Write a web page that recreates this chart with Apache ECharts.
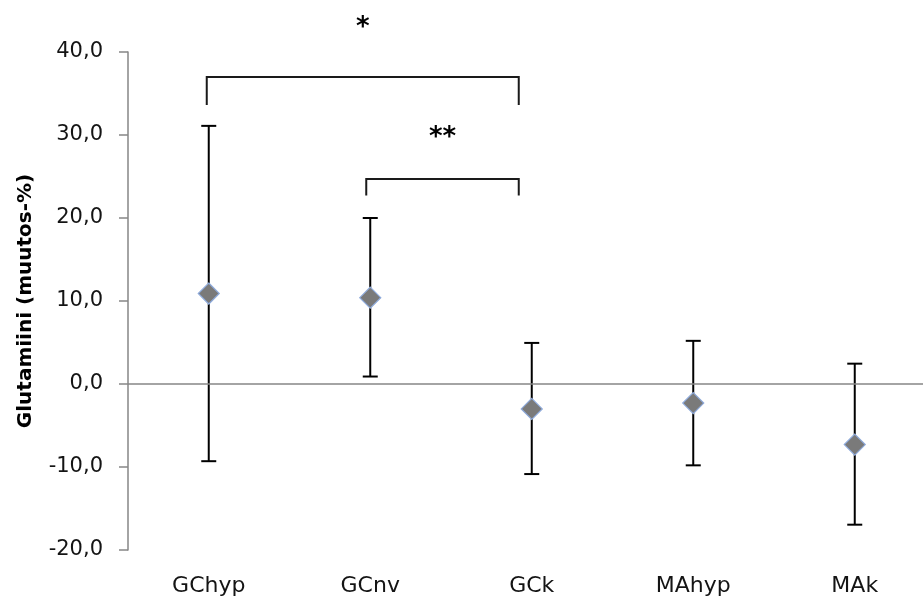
<!DOCTYPE html>
<html>
<head>
<meta charset="utf-8">
<title>Glutamiini (muutos-%)</title>
<script src="https://cdn.jsdelivr.net/npm/echarts@6/dist/echarts.min.js"></script>
<style>
  html, body { margin: 0; padding: 0; background: #ffffff; }
  #chart { width: 923px; height: 599px; }
</style>
</head>
<body>
<div id="chart"></div>
<script>
// Groups on the horizontal axis
const categories = ['GChyp', 'GCnv', 'GCk', 'MAhyp', 'MAk'];
// Mean change (%) per group
const means = [10.9, 10.4, -3.0, -2.3, -7.3];
// Upper and lower ends of the error bars
const upper = [31.1, 20.0, 4.95, 5.2, 2.45];
const lower = [-9.3, 0.9, -10.85, -9.8, -16.95];
// Y axis range and step
const yMin = -20, yMax = 40, yStep = 10;
// Significance brackets: from group, to group, bar level, leg bottom, star level, label
const bracketFrom = [0, 1];
const bracketTo = [2, 2];
const bracketTop = [37.0, 24.7];
const bracketLeg = [33.6, 22.7];
const starLevel = [42.9, 29.6];
const starText = ['*', '**'];

const FONT = 'DejaVu Sans';
const chart = echarts.init(document.getElementById('chart'), null, { renderer: 'canvas' });

const errorData = categories.map((c, i) => [i, lower[i], upper[i]]);
const bracketData = bracketFrom.map((f, i) => [f, bracketTo[i], bracketTop[i], bracketLeg[i], starLevel[i], i]);

chart.setOption({
  animation: false,
  backgroundColor: '#ffffff',
  // plot area runs a little past the right edge of the canvas
  grid: { left: 128, width: 807.5, top: 52, bottom: 49, containLabel: false, outerBoundsMode: 'none' },
  xAxis: {
    type: 'category',
    data: categories,
    axisLine: { show: false },
    axisTick: { show: false },
    splitLine: { show: false },
    axisLabel: { fontFamily: FONT, fontSize: 22, color: '#141414', margin: 25 }
  },
  yAxis: {
    type: 'value',
    min: yMin, max: yMax, interval: yStep,
    name: 'Glutamiini (muutos-%)',
    nameLocation: 'middle',
    nameGap: 92,
    nameTextStyle: { fontFamily: FONT, fontSize: 20, fontWeight: 'bold', color: '#000000' },
    axisLine: { show: true, lineStyle: { color: '#868686', width: 1.5 } },
    axisTick: { show: true, inside: false, length: 9, lineStyle: { color: '#868686', width: 1.5 } },
    splitLine: { show: false },
    axisLabel: {
      fontFamily: FONT, fontSize: 21, color: '#141414', margin: 25,
      formatter: v => v.toFixed(1).replace('.', ',')
    }
  },
  series: [
    {
      // error bars with caps
      type: 'custom',
      z: 3,
      data: errorData,
      renderItem: function (params, api) {
        const x = api.coord([api.value(0), 0])[0];
        const lo = api.coord([api.value(0), api.value(1)])[1];
        const hi = api.coord([api.value(0), api.value(2)])[1];
        const half = 7.5;
        const st = { stroke: '#000000', lineWidth: 2 };
        return {
          type: 'group',
          children: [
            { type: 'line', shape: { x1: x, y1: hi, x2: x, y2: lo }, style: st },
            { type: 'line', shape: { x1: x - half, y1: hi, x2: x + half, y2: hi }, style: st },
            { type: 'line', shape: { x1: x - half, y1: lo, x2: x + half, y2: lo }, style: st }
          ]
        };
      },
      markLine: {
        silent: true,
        symbol: 'none',
        label: { show: false },
        lineStyle: { color: '#868686', width: 1.5, type: 'solid' },
        data: [{ yAxis: 0 }]
      }
    },
    {
      // group means
      type: 'scatter',
      z: 4,
      symbol: 'diamond',
      symbolSize: 21,
      data: means.map((m, i) => [i, m]),
      itemStyle: { color: '#7a7a7a', borderColor: '#8eaadb', borderWidth: 1.2, opacity: 1 }
    },
    {
      // significance brackets and stars
      type: 'custom',
      z: 5,
      clip: false,
      data: bracketData,
      renderItem: function (params, api) {
        // nudges so the brackets sit where the annotations were placed
        const leftNudge = [-2, -4];
        const rightNudge = -13;
        const k = api.value(5);
        const xa = api.coord([api.value(0), 0])[0] + leftNudge[k];
        const xb = api.coord([api.value(1), 0])[0] + rightNudge;
        const yTop = api.coord([0, api.value(2)])[1];
        const yLeg = api.coord([0, api.value(3)])[1];
        const yStar = api.coord([0, api.value(4)])[1];
        const st = { stroke: '#1a1a1a', lineWidth: 2, fill: null };
        return {
          type: 'group',
          children: [
            { type: 'polyline', shape: { points: [[xa, yLeg], [xa, yTop], [xb, yTop], [xb, yLeg]] }, style: st },
            {
              type: 'text',
              style: {
                x: (xa + xb) / 2, y: yStar,
                text: starText[k],
                fontFamily: FONT, fontSize: 26, fontWeight: 'bold', fill: '#000000',
                align: 'center', verticalAlign: 'middle'
              }
            }
          ]
        };
      }
    }
  ]
});
</script>
</body>
</html>
